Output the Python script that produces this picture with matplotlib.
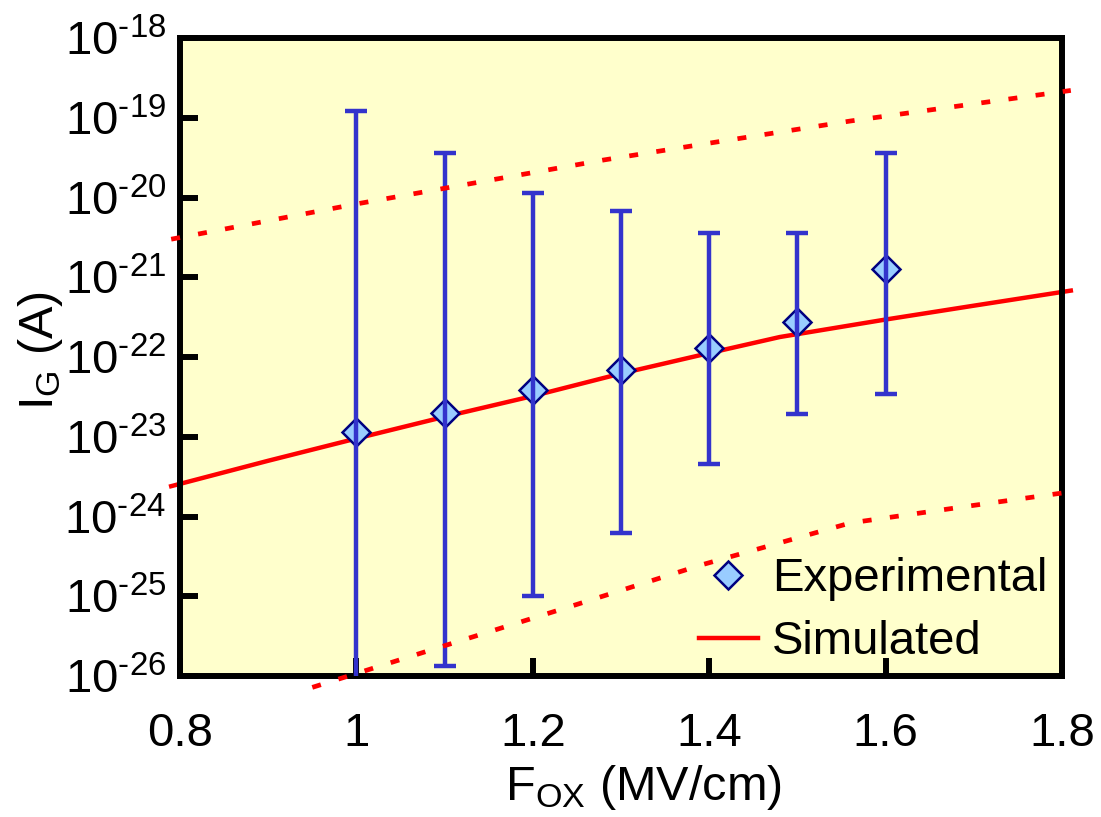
import matplotlib
matplotlib.use("Agg")
import matplotlib.pyplot as plt
from matplotlib.lines import Line2D
import numpy as np

plt.rcParams['font.family'] = ['Liberation Sans', 'DejaVu Sans']
plt.rcParams['mathtext.fontset'] = 'custom'
plt.rcParams['mathtext.rm'] = 'Liberation Sans'

# experimental gate current with spread
f_exp = np.array([1.0, 1.1, 1.2, 1.3, 1.4, 1.5, 1.6])
ig_exp = np.array([1.15e-23, 2.0e-23, 3.9e-23, 6.9e-23, 1.29e-22, 2.75e-22, 1.26e-21])
ig_hi = np.array([1.2e-19, 3.6e-20, 1.15e-20, 6.8e-21, 3.6e-21, 3.6e-21, 3.6e-20])
ig_lo = np.array([5e-27, 1.35e-26, 1.0e-25, 6.2e-25, 4.5e-24, 1.95e-23, 3.45e-23])

# simulated curve and its bounds
sim_f = [0.79, 0.9, 1.0, 1.1, 1.2, 1.3, 1.4, 1.48, 1.6, 1.7, 1.81]
sim_ig = [2.4e-24, 5.0e-24, 9.5e-24, 1.78e-23, 3.24e-23, 6.2e-23, 1.12e-22,
          1.78e-22, 2.95e-22, 4.4e-22, 6.8e-22]
up_f = [0.79, 1.0, 1.28, 1.4, 1.56, 1.81]
up_ig = [3.0e-21, 8.3e-21, 2.95e-20, 4.8e-20, 9.1e-20, 2.2e-19]
lo_f = [0.95, 1.1, 1.25, 1.39, 1.56, 1.7, 1.81]
lo_ig = [7.2e-27, 2.4e-26, 7.9e-26, 2.45e-25, 8.3e-25, 1.38e-24, 2.04e-24]

xticks = [0.8, 1.0, 1.2, 1.4, 1.6, 1.8]
xticklabels = ['0.8', '1', '1.2', '1.4', '1.6', '1.8']
yexp = list(range(-26, -17))

fig = plt.figure(figsize=(11.01, 8.17), dpi=100)
ax = fig.add_axes([180/1101, 141/817, 882/1101, 638/817])
ax.set_facecolor('#FFFFCC')
ax.set_yscale('log')
ax.set_xlim(0.8, 1.8)
ax.set_ylim(1e-26, 1e-18)

ax.plot(sim_f, sim_ig, color='red', lw=3.2, zorder=2, clip_on=False)
ax.plot(f_exp, ig_exp, ls='none', marker='D', ms=14.5, mfc='#99CCFF',
        mec='#000080', mew=1.8, zorder=3)
ax.errorbar(f_exp, ig_exp, yerr=[ig_exp - ig_lo, ig_hi - ig_exp], fmt='none',
            ecolor='#3333CC', elinewidth=3.2, capsize=8, capthick=3.2, zorder=4)
ax.plot(up_f, up_ig, color='red', lw=3.4, ls=(0, (1.9, 3.9)), zorder=5, clip_on=False)
ax.plot(lo_f, lo_ig, color='red', lw=3.4, ls=(0, (1.9, 3.9)), zorder=5, clip_on=False)

ax.set_xticks(xticks)
ax.set_xticklabels(xticklabels)
ax.set_yticks([10.0**e for e in yexp])
ax.set_yticklabels(['$\\mathrm{10^{\u2010%d}}$' % (-e) for e in yexp])
ax.yaxis.set_minor_locator(matplotlib.ticker.NullLocator())

for s in ax.spines.values():
    s.set_linewidth(4.3)
ax.tick_params(axis='both', direction='in', length=13, width=4.3,
               labelsize=34, top=False, right=False)
ax.tick_params(axis='x', pad=26)
ax.tick_params(axis='y', pad=10)

ax.set_xlabel(r'$\mathrm{F_{OX}}$ (MV/cm)', fontsize=35)
ax.xaxis.set_label_coords(0.525, -0.137)
ax.set_ylabel(r'$\mathrm{I_G}$ (A)', fontsize=35)
ax.yaxis.set_label_coords(-0.13, 0.51)

handles = [Line2D([], [], ls='none', marker='D', ms=14.5, mfc='#99CCFF',
                  mec='#000080', mew=1.8),
           Line2D([], [], color='red', lw=3.2)]
ax.legend(handles, ['Experimental', 'Simulated'], loc='lower left',
          bbox_to_anchor=(0.575, 0.0), frameon=False, fontsize=34,
          handlelength=1.25, handletextpad=0.3, labelspacing=0.4,
          borderpad=0, borderaxespad=0.25)

fig.savefig('out.png', dpi=100)
